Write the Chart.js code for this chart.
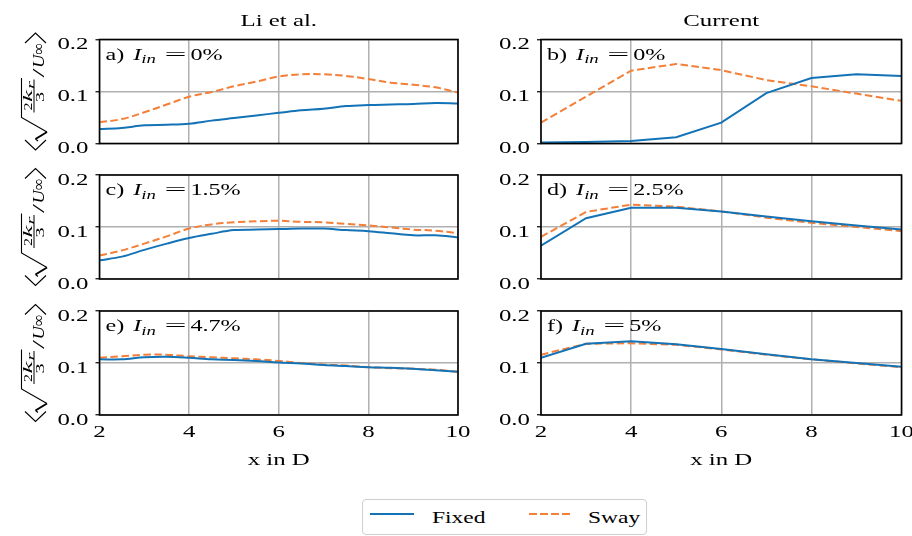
<!DOCTYPE html>
<html>
<head>
<meta charset="utf-8">
<script src="https://cdn.jsdelivr.net/npm/chart.js@4/dist/chart.umd.min.js"></script>
<style>
  html, body { margin: 0; padding: 0; background: #fff; }
  #fig { position: relative; width: 912px; height: 536px; overflow: hidden; }
  #fig canvas { position: absolute; left: 0; top: 0; }
  .legend { position: absolute; left: 362px; top: 499px; width: 285px; height: 36px;
            box-sizing: border-box; border: 1px solid #cfcfcf; border-radius: 4px; background: #fff; }
  .sample { position: absolute; height: 2px; }
  .lbl { position: absolute; font: 17px "Liberation Serif", "DejaVu Serif", serif; line-height: 17px;
         color: #000; white-space: nowrap; transform: scaleX(1.38); transform-origin: left center; }
</style>
</head>
<body>
<div id="fig">
  <canvas id="pa" width="912" height="536"></canvas>
  <canvas id="pb" width="912" height="536"></canvas>
  <canvas id="pc" width="912" height="536"></canvas>
  <canvas id="pd" width="912" height="536"></canvas>
  <canvas id="pe" width="912" height="536"></canvas>
  <canvas id="pf" width="912" height="536"></canvas>
  <div class="legend"></div>
  <div class="sample" style="left:370px; top:513px; width:44px; background:#1373b6"></div>
  <div class="lbl" style="left:432px; top:509px">Fixed</div>
  <div class="sample" style="left:529px; top:513px; width:44px; background:repeating-linear-gradient(90deg, #f37f38 0 7.5px, transparent 7.5px 11px)"></div>
  <div class="lbl" style="left:588px; top:509px">Sway</div>
</div>
<script>
// x positions (in rotor diameters D)
const liX = [2, 2.5, 3, 3.5, 4, 4.5, 5, 5.5, 6, 6.5, 7, 7.5, 8, 8.5, 9, 9.5, 10];
const curX = [2, 3, 4, 5, 6, 7, 8, 9, 10];

const columnTitles = ['Li et al.', 'Current'];
const panelTags = ['a)', 'b)', 'c)', 'd)', 'e)', 'f)'];
const inflowLevels = ['0%', '0%', '1.5%', '2.5%', '4.7%', '5%'];
const yTicks = [0, 0.1, 0.2];
const xTicks = [2, 4, 6, 8, 10];

// Li et al., I_in = 0%
const liFixed0 = [0.028, 0.030, 0.035, 0.036, 0.038, 0.044, 0.049, 0.054, 0.059, 0.064, 0.067, 0.072, 0.074, 0.075, 0.076, 0.078, 0.077];
const liSway0  = [0.041, 0.047, 0.060, 0.075, 0.090, 0.099, 0.110, 0.119, 0.129, 0.133, 0.133, 0.130, 0.124, 0.117, 0.113, 0.108, 0.098];
// current, I_in = 0%
const curFixed0 = [0.002, 0.003, 0.005, 0.012, 0.040, 0.097, 0.126, 0.133, 0.130];
const curSway0  = [0.040, 0.090, 0.140, 0.153, 0.141, 0.122, 0.110, 0.096, 0.082];
// Li et al., I_in = 1.5%
const liFixed15 = [0.036, 0.043, 0.056, 0.068, 0.079, 0.087, 0.094, 0.095, 0.096, 0.097, 0.097, 0.094, 0.092, 0.088, 0.084, 0.084, 0.080];
const liSway15  = [0.045, 0.055, 0.068, 0.082, 0.097, 0.105, 0.109, 0.111, 0.112, 0.110, 0.109, 0.106, 0.103, 0.099, 0.095, 0.093, 0.088];
// current, I_in = 2.5%
const curFixed25 = [0.064, 0.117, 0.137, 0.137, 0.130, 0.120, 0.111, 0.103, 0.095];
const curSway25  = [0.081, 0.129, 0.143, 0.139, 0.130, 0.118, 0.108, 0.100, 0.092];
// Li et al., I_in = 4.7%
const liFixed47 = [0.107, 0.107, 0.111, 0.112, 0.110, 0.107, 0.106, 0.104, 0.101, 0.099, 0.096, 0.094, 0.092, 0.091, 0.089, 0.086, 0.083];
const liSway47  = [0.110, 0.113, 0.116, 0.116, 0.113, 0.111, 0.109, 0.107, 0.104, 0.100, 0.097, 0.095, 0.092, 0.090, 0.089, 0.087, 0.083];
// current, I_in = 5%
const curFixed5 = [0.110, 0.137, 0.142, 0.136, 0.127, 0.117, 0.107, 0.100, 0.093];
const curSway5  = [0.116, 0.137, 0.138, 0.135, 0.126, 0.116, 0.107, 0.099, 0.092];

const BLUE = '#1373b6';
const ORANGE = '#f37f38';
const INK = '#000';
const SERIF = '"Liberation Serif", "DejaVu Serif", serif';
const WIDE = 1.42;

const colBox = [{ left: 99.5, right: 458 }, { left: 541, right: 901.5 }];
const rowTop = [39.5, 175, 311];
const plotH = 104;

function wideText(ctx, text, x, y, font, align, sx) {
  ctx.save();
  ctx.font = font;
  const w = ctx.measureText(text).width * sx;
  let x0 = x;
  if (align === 'center') x0 = x - w / 2;
  if (align === 'right') x0 = x - w;
  ctx.translate(x0, y);
  ctx.scale(sx, 1);
  ctx.textAlign = 'left';
  ctx.textBaseline = 'alphabetic';
  ctx.fillText(text, 0, 0);
  ctx.restore();
  return w;
}

function fitText(ctx, text, font, u0, u1, w) {
  ctx.save();
  ctx.font = font;
  const m = ctx.measureText(text).width;
  ctx.translate(u0, w);
  ctx.scale((u1 - u0) / m, 1);
  ctx.textBaseline = 'alphabetic';
  ctx.fillText(text, 0, 0);
  ctx.restore();
}

// <sqrt(2k_r/3)/U_inf>, written bottom to top
function drawYLabel(ctx, cy) {
  ctx.save();
  ctx.translate(44, cy);
  ctx.rotate(-Math.PI / 2);
  ctx.fillStyle = INK;
  ctx.strokeStyle = INK;
  ctx.lineWidth = 1.1;
  ctx.beginPath();
  ctx.moveTo(-48.5, -19); ctx.lineTo(-58.5, -8.5); ctx.lineTo(-48.5, 2);
  ctx.moveTo(48.5, -19); ctx.lineTo(58.5, -8.5); ctx.lineTo(48.5, 2);
  ctx.stroke();
  ctx.beginPath();
  ctx.moveTo(-49.5, -6); ctx.lineTo(-47.5, -8.5);
  ctx.moveTo(-40.5, 3); ctx.lineTo(-26, -22.5); ctx.lineTo(13.5, -22.5);
  ctx.stroke();
  ctx.lineWidth = 2;
  ctx.beginPath();
  ctx.moveTo(-47.5, -8.5); ctx.lineTo(-40.5, 3);
  ctx.stroke();
  ctx.lineWidth = 1;
  ctx.beginPath();
  ctx.moveTo(-21, -10); ctx.lineTo(12, -10);
  ctx.stroke();
  fitText(ctx, '2', `13.5px ${SERIF}`, -19, -11, -12);
  fitText(ctx, 'k', `italic 13.5px ${SERIF}`, -10.5, 1.5, -12);
  fitText(ctx, 'r', `italic 10px ${SERIF}`, 2.5, 10.5, -10);
  fitText(ctx, '3', `13.5px ${SERIF}`, -10.5, -0.5, 0);
  fitText(ctx, '/', `17px ${SERIF}`, 14, 23, 0);
  fitText(ctx, 'U', `italic 17px ${SERIF}`, 23.5, 37, 0);
  fitText(ctx, '\u221e', `17px ${SERIF}`, 37, 48.5, 0);
  ctx.restore();
}

function panelPlugin(cfg) {
  return {
    id: 'panel',
    afterDraw(chart) {
      const ctx = chart.ctx;
      const a = chart.chartArea;
      const tickFont = `17.5px ${SERIF}`;
      ctx.save();
      ctx.fillStyle = INK;

      // axes frame
      ctx.strokeStyle = '#000';
      ctx.lineWidth = 1.6;
      ctx.strokeRect(a.left, a.top, a.right - a.left, a.bottom - a.top);

      const ys = chart.scales.y;
      ys.ticks.forEach((t, i) => {
        wideText(ctx, t.label, a.left - 11, ys.getPixelForTick(i) + 9.5, tickFont, 'right', WIDE);
      });

      if (cfg.bottom) {
        const xs = chart.scales.x;
        xs.ticks.forEach((t, i) => {
          wideText(ctx, t.label, xs.getPixelForTick(i), a.bottom + 22, tickFont, 'center', WIDE);
        });
        wideText(ctx, 'x in D', (a.left + a.right) / 2, a.bottom + 50, `17.5px ${SERIF}`, 'center', WIDE);
      }

      if (cfg.title) {
        wideText(ctx, cfg.title, (a.left + a.right) / 2, a.top - 13.5, `17.5px ${SERIF}`, 'center', WIDE);
      }

      // panel tag, e.g. "a) I_in = 0%"
      const base = a.top + 20;
      let x = a.left + 6;
      x += wideText(ctx, cfg.tag, x, base, `17px ${SERIF}`, 'left', WIDE) + 9;
      x += wideText(ctx, 'I', x, base, `italic 17px ${SERIF}`, 'left', WIDE);
      x += wideText(ctx, 'in', x, base + 3.5, `italic 12.5px ${SERIF}`, 'left', 1.5) + 8.5;
      x += wideText(ctx, '=', x, base, `17px ${SERIF}`, 'left', 2.3) + 4;
      wideText(ctx, cfg.level, x, base, `17px ${SERIF}`, 'left', WIDE);

      if (cfg.yLabel) drawYLabel(ctx, (a.top + a.bottom) / 2);
      ctx.restore();
    }
  };
}

function points(xs, ys) {
  return xs.map((x, i) => ({ x: x, y: ys[i] }));
}

function makePanel(id, idx, xs, fixed, sway, smooth) {
  const col = idx % 2;
  const row = Math.floor(idx / 2);
  const top = rowTop[row];
  const tension = smooth ? 0.35 : 0;
  new Chart(document.getElementById(id), {
    type: 'line',
    data: {
      datasets: [
        { label: 'Fixed', data: points(xs, fixed), borderColor: BLUE, borderWidth: 2, tension: tension },
        { label: 'Sway', data: points(xs, sway), borderColor: ORANGE, borderWidth: 2, borderDash: [7.5, 3.5], tension: tension }
      ]
    },
    options: {
      responsive: false,
      animation: false,
      events: [],
      elements: { point: { radius: 0 } },
      layout: {
        padding: { left: colBox[col].left, right: 912 - colBox[col].right, top: top, bottom: 536 - top - plotH }
      },
      plugins: { legend: { display: false }, tooltip: { enabled: false } },
      scales: {
        x: {
          type: 'linear', min: 2, max: 10,
          afterBuildTicks: s => { s.ticks = xTicks.map(v => ({ value: v })); },
          afterFit: s => { s.height = 0; },
          ticks: { display: false, callback: v => String(v) },
          grid: { color: '#b0b0b0', lineWidth: 1.5, drawTicks: false },
          border: { display: false }
        },
        y: {
          min: 0, max: 0.2,
          afterBuildTicks: s => { s.ticks = yTicks.map(v => ({ value: v })); },
          afterFit: s => { s.width = 0; },
          ticks: { display: false, callback: v => v.toFixed(1) },
          grid: { color: '#b0b0b0', lineWidth: 1.5, drawTicks: true, tickLength: 4, tickColor: '#000', tickWidth: 1.2 },
          border: { display: false }
        }
      }
    },
    plugins: [panelPlugin({
      tag: panelTags[idx],
      level: inflowLevels[idx],
      title: row === 0 ? columnTitles[col] : null,
      bottom: row === 2,
      yLabel: col === 0
    })]
  });
}

makePanel('pa', 0, liX, liFixed0, liSway0, true);
makePanel('pb', 1, curX, curFixed0, curSway0, false);
makePanel('pc', 2, liX, liFixed15, liSway15, true);
makePanel('pd', 3, curX, curFixed25, curSway25, false);
makePanel('pe', 4, liX, liFixed47, liSway47, true);
makePanel('pf', 5, curX, curFixed5, curSway5, false);
</script>
</body>
</html>
